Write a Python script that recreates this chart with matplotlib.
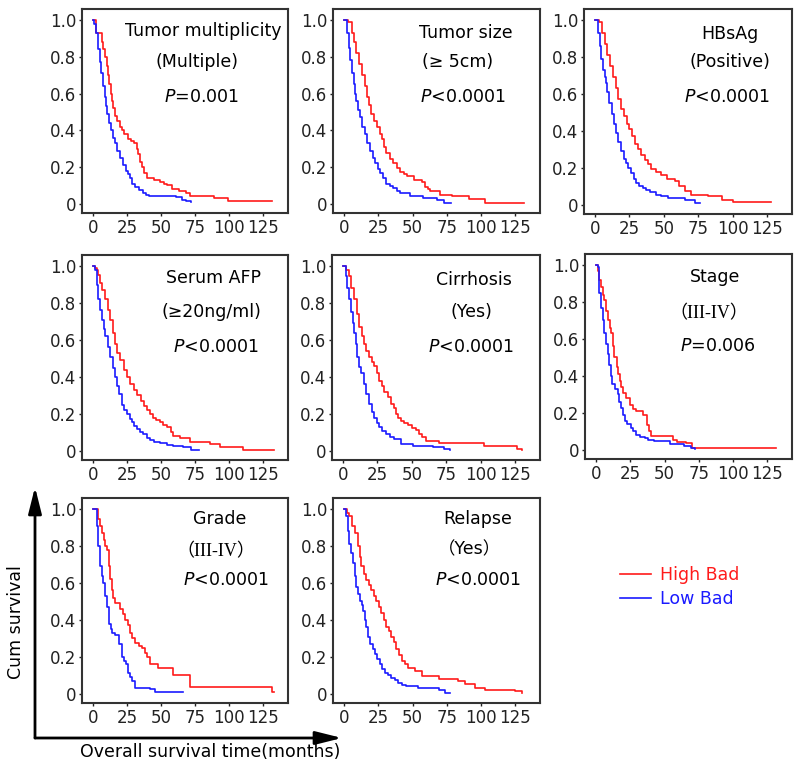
import matplotlib
matplotlib.use("Agg")
import matplotlib.pyplot as plt
from matplotlib.patches import FancyArrowPatch

plt.rcParams['font.family'] = ['DejaVu Sans', 'Noto Sans CJK SC']
plt.rcParams['mathtext.fontset'] = 'dejavusans'

# Kaplan-Meier step points (months, cum survival)
mult_high_t = [0, 2.4, 6.5, 7.5, 8.5, 10, 11, 12, 13, 14, 15, 16.5, 18, 19.5, 21, 23, 25.6, 28, 30, 32, 33, 34.5, 36, 37.5, 40, 45, 49, 52, 54, 58, 63, 68, 71, 89, 99, 131]
mult_high_s = [1.0, 0.93, 0.88, 0.84, 0.80, 0.75, 0.70, 0.65, 0.60, 0.56, 0.52, 0.48, 0.45, 0.42, 0.40, 0.38, 0.35, 0.34, 0.33, 0.30, 0.27, 0.23, 0.20, 0.17, 0.14, 0.13, 0.12, 0.11, 0.10, 0.08, 0.07, 0.06, 0.045, 0.033, 0.018, 0.018]
mult_low_t = [0, 1, 2.4, 3.7, 5, 6, 7.3, 8.5, 9.5, 10.5, 12, 13.5, 15, 16.5, 18, 20, 22, 24, 25.6, 27, 29, 31, 34, 37, 39, 41, 61, 65, 68, 72]
mult_low_s = [1.0, 0.98, 0.93, 0.84, 0.77, 0.71, 0.64, 0.58, 0.53, 0.49, 0.44, 0.40, 0.36, 0.33, 0.29, 0.25, 0.21, 0.18, 0.16, 0.14, 0.11, 0.09, 0.073, 0.06, 0.05, 0.04, 0.036, 0.02, 0.013, 0.009]

size_high_t = [0, 3, 5.6, 7, 9, 11, 13, 15, 16.6, 18, 20, 22, 24, 26, 27.6, 29.5, 31, 33.5, 36, 38.5, 41, 43.5, 46, 51, 57, 59, 61, 63, 70, 79, 91, 103, 131]
size_high_s = [1.0, 0.99, 0.93, 0.88, 0.82, 0.76, 0.70, 0.64, 0.58, 0.54, 0.49, 0.45, 0.42, 0.38, 0.35, 0.31, 0.275, 0.245, 0.22, 0.195, 0.175, 0.16, 0.15, 0.13, 0.12, 0.094, 0.08, 0.067, 0.049, 0.04, 0.025, 0.007, 0.007]
size_low_t = [0, 2.4, 3.4, 4.4, 5.7, 7, 8, 9, 10.5, 12, 13.5, 15, 17, 19, 21, 23, 24.5, 26, 28.5, 31, 33.5, 36, 38.5, 41, 48, 58, 68, 73, 78]
size_low_s = [1.0, 0.93, 0.85, 0.78, 0.71, 0.65, 0.60, 0.56, 0.51, 0.47, 0.42, 0.38, 0.33, 0.29, 0.25, 0.22, 0.19, 0.167, 0.14, 0.11, 0.095, 0.085, 0.07, 0.058, 0.04, 0.03, 0.022, 0.007, 0.007]

hbs_high_t = [0, 3, 5, 7, 9, 11, 13, 15, 17, 19, 21, 23, 25, 27, 29, 31, 33.5, 36, 38.5, 41, 44, 48, 52, 58, 61, 65, 70, 82, 92, 100, 128]
hbs_high_s = [1.0, 0.99, 0.93, 0.87, 0.81, 0.75, 0.69, 0.63, 0.57, 0.52, 0.48, 0.44, 0.41, 0.37, 0.33, 0.30, 0.27, 0.245, 0.22, 0.195, 0.18, 0.16, 0.14, 0.127, 0.10, 0.072, 0.055, 0.045, 0.027, 0.013, 0.013]
hbs_low_t = [0, 2.4, 3.4, 4.5, 5.7, 7, 8, 9, 10.5, 12, 13.5, 15, 17, 19, 21, 22.5, 24, 26, 28, 29.5, 32, 34.5, 37, 40, 44, 48, 53, 65, 72.5, 76]
hbs_low_s = [1.0, 0.93, 0.86, 0.79, 0.73, 0.69, 0.66, 0.61, 0.55, 0.49, 0.44, 0.39, 0.34, 0.29, 0.25, 0.226, 0.20, 0.17, 0.14, 0.118, 0.10, 0.09, 0.08, 0.07, 0.054, 0.045, 0.036, 0.027, 0.009, 0.009]

afp_high_t = [0, 1.7, 3, 4, 5.4, 7, 9, 11, 12.7, 14.5, 16, 18, 20, 22.5, 25, 27.5, 30, 32.5, 35, 37.5, 40, 42, 44, 46.5, 49, 51.5, 54, 57, 59, 64, 71, 86, 93, 110, 133]
afp_high_s = [1.0, 0.99, 0.98, 0.95, 0.91, 0.87, 0.82, 0.76, 0.71, 0.64, 0.58, 0.53, 0.49, 0.44, 0.40, 0.36, 0.33, 0.30, 0.27, 0.245, 0.22, 0.20, 0.18, 0.165, 0.155, 0.14, 0.127, 0.10, 0.08, 0.07, 0.05, 0.036, 0.018, 0.005, 0.005]
afp_low_t = [0, 1.7, 3, 4, 5.3, 6.6, 8, 9, 11, 12.7, 14.5, 16, 17.5, 19, 21, 23, 25, 27, 28.5, 30, 32, 34.5, 37, 40, 42, 45, 49, 54, 59, 66, 72, 78]
afp_low_s = [1.0, 0.98, 0.90, 0.82, 0.76, 0.71, 0.66, 0.62, 0.56, 0.51, 0.45, 0.40, 0.35, 0.31, 0.25, 0.22, 0.20, 0.17, 0.155, 0.135, 0.118, 0.10, 0.09, 0.07, 0.058, 0.05, 0.04, 0.033, 0.027, 0.018, 0.005, 0.005]

cir_high_t = [0, 2.4, 4.4, 6, 8, 10, 11.7, 13.5, 15, 17, 19, 21, 22.7, 24.5, 26, 28, 30, 32.5, 35, 37, 38.5, 40, 42, 44.5, 47, 50, 53, 55, 57, 60, 70, 102, 126, 130]
cir_high_s = [1.0, 0.98, 0.945, 0.88, 0.82, 0.74, 0.67, 0.62, 0.58, 0.54, 0.51, 0.48, 0.46, 0.42, 0.38, 0.35, 0.32, 0.29, 0.255, 0.23, 0.20, 0.18, 0.16, 0.15, 0.14, 0.125, 0.11, 0.09, 0.073, 0.055, 0.04, 0.027, 0.009, 0.005]
cir_low_t = [0, 2, 3, 4.4, 5.7, 7, 8, 9.3, 10.5, 11.7, 13, 15, 17, 19, 21, 22.7, 24.5, 26, 28.5, 31, 34, 37, 42, 51, 65, 73, 78]
cir_low_s = [1.0, 0.945, 0.88, 0.82, 0.75, 0.69, 0.64, 0.58, 0.51, 0.455, 0.42, 0.36, 0.31, 0.255, 0.21, 0.18, 0.15, 0.127, 0.105, 0.09, 0.075, 0.064, 0.036, 0.027, 0.018, 0.009, 0.005]

stage_high_t = [0, 1.2, 2.5, 3.7, 5, 6, 7.3, 8.6, 10, 11, 12.3, 13.5, 15, 16, 17.2, 18.4, 20, 22, 24.5, 27, 29, 34, 37, 38.5, 40, 56, 59, 66, 70, 131]
stage_high_s = [1.0, 0.97, 0.92, 0.88, 0.84, 0.81, 0.75, 0.70, 0.66, 0.63, 0.56, 0.50, 0.45, 0.41, 0.37, 0.34, 0.31, 0.28, 0.24, 0.22, 0.21, 0.19, 0.136, 0.10, 0.073, 0.055, 0.042, 0.036, 0.009, 0.009]
stage_low_t = [0, 1.2, 2.4, 3.7, 5, 6, 7.3, 8.5, 9.8, 11, 12, 14, 16, 17, 18.4, 19.5, 21, 23, 25.7, 27, 29, 32, 35.5, 38, 42, 54, 64, 69, 72]
stage_low_s = [1.0, 0.99, 0.85, 0.77, 0.70, 0.63, 0.57, 0.52, 0.46, 0.40, 0.355, 0.33, 0.30, 0.26, 0.227, 0.19, 0.155, 0.14, 0.118, 0.10, 0.082, 0.07, 0.064, 0.055, 0.045, 0.03, 0.022, 0.009, 0.005]

grade_high_t = [0, 3, 4, 5.3, 6.6, 8, 9, 10, 11.5, 12.7, 14, 15, 16, 20, 22, 23.7, 25.5, 27, 29, 31, 33.5, 36, 38, 39.5, 42, 48, 59, 71, 131, 133]
grade_high_s = [1.0, 1.0, 0.945, 0.91, 0.87, 0.83, 0.80, 0.78, 0.69, 0.62, 0.56, 0.52, 0.49, 0.46, 0.43, 0.40, 0.37, 0.33, 0.30, 0.275, 0.26, 0.25, 0.22, 0.20, 0.16, 0.14, 0.10, 0.036, 0.01, 0.01]
grade_low_t = [0, 1.7, 3, 4, 5.4, 6.5, 7.3, 8.5, 10, 11.5, 13, 14, 16, 19, 21, 22.5, 24.4, 26, 27.5, 28.5, 31, 42, 45.6, 66]
grade_low_s = [1.0, 1.0, 0.91, 0.80, 0.69, 0.64, 0.60, 0.53, 0.47, 0.38, 0.35, 0.33, 0.32, 0.27, 0.20, 0.18, 0.16, 0.115, 0.09, 0.07, 0.033, 0.024, 0.009, 0.009]

rel_high_t = [0, 2, 4, 6, 8, 10, 11.5, 12.7, 14.5, 16, 18, 20, 22, 23.7, 25.5, 27, 29, 31, 33, 34.6, 36.5, 38, 40, 42, 44.5, 47, 52, 56.6, 69, 83, 88, 95.6, 103, 125, 130]
rel_high_s = [1.0, 0.98, 0.96, 0.91, 0.87, 0.80, 0.74, 0.69, 0.65, 0.615, 0.59, 0.56, 0.53, 0.505, 0.47, 0.44, 0.40, 0.36, 0.34, 0.31, 0.28, 0.24, 0.21, 0.18, 0.16, 0.14, 0.125, 0.096, 0.078, 0.069, 0.051, 0.033, 0.018, 0.015, 0.005]
rel_low_t = [0, 1.7, 2.8, 4, 5.3, 6.6, 8, 9, 10.2, 11.5, 13, 14, 15, 16, 17.5, 19, 21, 22.4, 24, 26, 28, 30, 32, 34.6, 37, 39.5, 42, 45.6, 54, 69, 73.7, 77]
rel_low_s = [1.0, 0.96, 0.88, 0.81, 0.76, 0.71, 0.64, 0.58, 0.54, 0.505, 0.48, 0.45, 0.40, 0.36, 0.31, 0.27, 0.24, 0.215, 0.19, 0.16, 0.135, 0.115, 0.10, 0.087, 0.072, 0.06, 0.05, 0.042, 0.029, 0.018, 0.005, 0.005]

titles = ["Tumor multiplicity", "Tumor size", "HBsAg", "Serum AFP",
          "Cirrhosis", "Stage", "Grade", "Relapse"]
subtitles = ["(Multiple)", "(≥ 5cm)", "(Positive)", "(≥20ng/ml)",
             "(Yes)", "（III-IV）", "（III-IV）", "（Yes）"]
pvalues = ["=0.001", "<0.0001", "<0.0001", "<0.0001",
           "<0.0001", "=0.006", "<0.0001", "<0.0001"]
x_ticks = [0, 25, 50, 75, 100, 125]
y_ticks = [0, 0.2, 0.4, 0.6, 0.8, 1.0]
y_ticklabels = ["0", "0.2", "0.4", "0.6", "0.8", "1.0"]

curves = [
    (mult_high_t, mult_high_s, mult_low_t, mult_low_s),
    (size_high_t, size_high_s, size_low_t, size_low_s),
    (hbs_high_t, hbs_high_s, hbs_low_t, hbs_low_s),
    (afp_high_t, afp_high_s, afp_low_t, afp_low_s),
    (cir_high_t, cir_high_s, cir_low_t, cir_low_s),
    (stage_high_t, stage_high_s, stage_low_t, stage_low_s),
    (grade_high_t, grade_high_s, grade_low_t, grade_low_s),
    (rel_high_t, rel_high_s, rel_low_t, rel_low_s),
]

W, H = 800, 771
fig = plt.figure(figsize=(8, 7.71), dpi=100)

# panel boxes in pixels: (left, top, right, bottom)
boxes = [
    (82, 9, 288, 213), (333, 9, 540, 213), (584, 9, 792, 214),
    (82, 255, 288, 460), (332, 255, 540, 460), (585, 254, 792, 459),
    (82, 498, 288, 703), (333, 498, 540, 703),
]
# text centres in axes fraction: (x, y) for title, subtitle, p-value
text_pos = [
    [(0.59, 0.89), (0.56, 0.74), (0.58, 0.57)],
    [(0.64, 0.88), (0.60, 0.74), (0.63, 0.57)],
    [(0.70, 0.88), (0.70, 0.74), (0.69, 0.57)],
    [(0.64, 0.89), (0.63, 0.72), (0.65, 0.55)],
    [(0.68, 0.88), (0.67, 0.72), (0.67, 0.55)],
    [(0.63, 0.89), (0.60, 0.71), (0.64, 0.55)],
    [(0.67, 0.90), (0.65, 0.74), (0.70, 0.60)],
    [(0.70, 0.90), (0.66, 0.75), (0.70, 0.60)],
]

handles = None
for i, (l, t, r, b) in enumerate(boxes):
    ax = fig.add_axes([l / W, 1 - b / H, (r - l) / W, (b - t) / H])
    ht, hs, lt, ls = curves[i]
    h1, = ax.step(ht, hs, where='post', color='#ff1a1a', lw=1.2, label='High Bad')
    h2, = ax.step(lt, ls, where='post', color='#1a1aff', lw=1.2, label='Low Bad')
    handles = [h1, h2]
    ax.set_xlim(-8, 143)
    ax.set_ylim(-0.05, 1.06)
    ax.set_xticks(x_ticks)
    ax.set_yticks(y_ticks)
    ax.set_yticklabels(y_ticklabels)
    ax.tick_params(labelsize=12, length=2.5, width=1, pad=1.5, colors='#222222')
    for sp in ax.spines.values():
        sp.set_linewidth(1.5)
        sp.set_color('#333333')

    (tx, ty), (sx, sy), (px, py) = text_pos[i]
    ax.text(tx, ty, titles[i], transform=ax.transAxes, ha='center', va='center', fontsize=12.5)
    if 'III' in subtitles[i]:
        ax.text(sx, sy, subtitles[i], transform=ax.transAxes, ha='center', va='center',
                fontsize=13, family=['Liberation Serif', 'Noto Sans CJK SC'])
    else:
        ax.text(sx, sy, subtitles[i], transform=ax.transAxes, ha='center', va='center',
                fontsize=12.5, family=['DejaVu Sans', 'Noto Sans CJK SC'])
    ax.text(px, py, '$P$' + pvalues[i], transform=ax.transAxes, ha='center', va='center', fontsize=12.5)

# axis arrows and labels
arrow_style = '-|>,head_length=1.6,head_width=0.4'
ox, oy = 35 / W, 1 - 738 / H
fig.add_artist(FancyArrowPatch((ox, oy), (ox, 1 - 487 / H), transform=fig.transFigure,
                               arrowstyle=arrow_style, mutation_scale=10, lw=2,
                               color='black', shrinkA=0, shrinkB=0))
fig.add_artist(FancyArrowPatch((ox, oy), (342 / W, oy), transform=fig.transFigure,
                               arrowstyle=arrow_style, mutation_scale=10, lw=2,
                               color='black', shrinkA=0, shrinkB=0))
fig.text(16 / W, 1 - 622 / H, 'Cum survival', rotation=90, ha='center', va='center', fontsize=12.5)
fig.text(210 / W, 1 - 752 / H, 'Overall survival time(months)', ha='center', va='center', fontsize=12.5)

fig.legend(handles, ['High Bad', 'Low Bad'], loc='upper left', bbox_to_anchor=(620 / W, 1 - 566 / H),
           frameon=False, fontsize=12.5, handlelength=1.8, handletextpad=0.5,
           labelspacing=0.35, borderpad=0, borderaxespad=0, labelcolor='linecolor')

fig.savefig('out.png', dpi=100)
